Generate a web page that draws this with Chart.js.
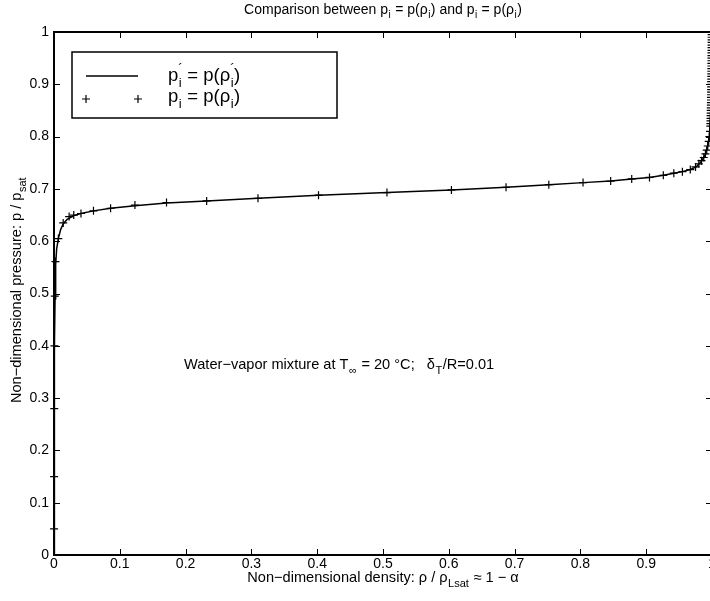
<!DOCTYPE html>
<html>
<head>
<meta charset="utf-8">
<script src="https://cdn.jsdelivr.net/npm/chart.js@4/dist/chart.umd.min.js"></script>
<style>
html,body{margin:0;padding:0;background:#fff;overflow:hidden;width:710px;height:601px;}
#wrap{width:720px;height:601px;}
</style>
</head>
<body>
<div id="wrap"><canvas id="c" width="720" height="601"></canvas></div>
<script>
/* p_i = p(rho_i) vs p'_i = p(rho'_i) */
const xTickLabels=['0','0.1','0.2','0.3','0.4','0.5','0.6','0.7','0.8','0.9','1'];
const yTickLabels=['0','0.1','0.2','0.3','0.4','0.5','0.6','0.7','0.8','0.9','1'];
// solid curve: p'_i = p(rho'_i)
const lineRho=[0,0.0003,0.0006,0.001,0.0016,0.0025,0.004,0.0066,0.01,0.014,0.02,0.03,0.041,0.06,0.086,0.123,0.171,0.232,0.31,0.402,0.506,0.604,0.687,0.752,0.804,0.846,0.878,0.905,0.926,0.942,0.955,0.967,0.976,0.984,0.99,0.9935,0.996,0.998,0.999,1.0];
const lineP=[0,0.15,0.28,0.40,0.49,0.555,0.585,0.605,0.622,0.633,0.642,0.649,0.653,0.658,0.663,0.668,0.673,0.677,0.682,0.688,0.693,0.698,0.703,0.708,0.712,0.715,0.719,0.722,0.726,0.730,0.733,0.737,0.742,0.753,0.766,0.782,0.80,0.85,0.92,1.0];
// '+' markers: p_i = p(rho_i)
const markRho=[0.0001,0.0002,0.0004,0.0007,0.0012,0.0022,0.0066,0.014,0.023,0.030,0.041,0.060,0.086,0.123,0.171,0.232,0.310,0.402,0.506,0.604,0.687,0.752,0.804,0.846,0.878,0.905,0.926,0.942,0.955,0.967,0.975,0.980,0.984,0.9875,0.990,0.992,0.9935,0.995,0.996,0.997,
  0.9975,0.9976,0.9977,0.9978,0.9979,0.998,0.9981,0.9982,0.9983,0.9984,0.9985,0.9985,0.9986,0.9986,0.9987,0.9987,0.9988,0.9988,0.9989,0.9989,0.999,0.999,0.999,0.9991,0.9991,0.9991,0.9992,0.9992,0.9992,0.9993,0.9993,0.9993,0.9994,0.9994,0.9994,0.9995,0.9995];
const markP=[0.05,0.15,0.28,0.40,0.495,0.561,0.605,0.635,0.647,0.650,0.653,0.658,0.663,0.669,0.674,0.677,0.682,0.688,0.693,0.698,0.703,0.708,0.712,0.715,0.719,0.722,0.726,0.730,0.733,0.737,0.742,0.748,0.754,0.760,0.767,0.774,0.782,0.791,0.800,0.810,
  0.820,0.825,0.830,0.835,0.840,0.845,0.850,0.855,0.860,0.865,0.870,0.875,0.880,0.885,0.890,0.895,0.900,0.905,0.910,0.915,0.920,0.925,0.930,0.935,0.940,0.945,0.950,0.955,0.960,0.965,0.970,0.975,0.980,0.985,0.990,0.995,1.000];

const FONT='"Liberation Sans", Arial, Helvetica, sans-serif';

// segments: [text, kind]  kind: undefined normal, 'b' subscript, 'pb' prime + subscript stacked
function segW(ctx,segs,size){
  let w=0;
  segs.forEach(function(s){
    if(!s[1]){ctx.font=size+'px '+FONT;w+=ctx.measureText(s[0]).width;}
    else{ctx.font=Math.round(size*0.72)+'px '+FONT;w+=ctx.measureText(s[0]).width+1;}
  });
  return w;
}
function drawRich(ctx,segs,x,y,size,align){
  let w=segW(ctx,segs,size);
  let cx=align==='center'?x-w/2:x;
  ctx.fillStyle='#000';ctx.textBaseline='alphabetic';ctx.textAlign='left';
  segs.forEach(function(s){
    if(!s[1]){ctx.font=size+'px '+FONT;ctx.fillText(s[0],cx,y);cx+=ctx.measureText(s[0]).width;return;}
    const ss=Math.round(size*0.72);
    ctx.font=ss+'px '+FONT;
    const sw=ctx.measureText(s[0]).width;
    if(s[1]==='pb'){ctx.fillText('\u00b4',cx,y-size*0.45);}
    ctx.fillText(s[0],cx+0.5,y+size*0.32);
    cx+=sw+1;
  });
}
function cross(ctx,x,y,r){ctx.beginPath();ctx.moveTo(x-r,y);ctx.lineTo(x+r,y);ctx.moveTo(x,y-r);ctx.lineTo(x,y+r);ctx.stroke();}

const decor={
  id:'decor',
  beforeDatasetsDraw(chart){
    const ctx=chart.ctx,a=chart.chartArea,xs=chart.scales.x,ys=chart.scales.y;
    ctx.save();
    ctx.strokeStyle='#000';ctx.lineWidth=1;
    xs.ticks.forEach(function(t){
      const px=Math.round(xs.getPixelForValue(t.value))+0.5;
      ctx.beginPath();ctx.moveTo(px,a.bottom);ctx.lineTo(px,a.bottom-6);ctx.moveTo(px,a.top);ctx.lineTo(px,a.top+6);ctx.stroke();
    });
    ys.ticks.forEach(function(t){
      const py=Math.round(ys.getPixelForValue(t.value))+0.5;
      ctx.beginPath();ctx.moveTo(a.left,py);ctx.lineTo(a.left+6,py);ctx.moveTo(a.right,py);ctx.lineTo(a.right-6,py);ctx.stroke();
    });
    ctx.lineWidth=2;
    ctx.strokeRect(a.left,a.top,a.right-a.left,a.bottom-a.top);
    ctx.restore();
  },
  afterDraw(chart){
    const ctx=chart.ctx,a=chart.chartArea;
    ctx.save();
    const mid=(a.left+a.right)/2;
    // title
    drawRich(ctx,[['Comparison between p'],['i','b'],[' = p(\u03c1'],['i','b'],[') and p'],['i','b'],[' = p(\u03c1'],['i','b'],[')']],mid,14,14,'center');
    // x title
    drawRich(ctx,[['Non\u2212dimensional density: \u03c1 / \u03c1'],['Lsat','b'],[' \u2248 1 \u2212 \u03b1']],mid,582,14.6,'center');
    // y title
    ctx.save();ctx.translate(21,290);ctx.rotate(-Math.PI/2);
    drawRich(ctx,[['Non\u2212dimensional pressure: p / p'],['sat','b']],0,0,14.6,'center');
    ctx.restore();
    // annotation
    drawRich(ctx,[['Water\u2212vapor mixture at T'],['\u221e','b'],[' = 20 \u00b0C;   \u03b4'],['T','b'],['/R=0.01']],184,369,14.6,'left');
    // legend
    ctx.fillStyle='#fff';ctx.fillRect(72,52,265,66);
    ctx.strokeStyle='#000';ctx.lineWidth=1.5;ctx.strokeRect(72,52,265,66);
    ctx.lineWidth=1.5;ctx.beginPath();ctx.moveTo(86,76);ctx.lineTo(138,76);ctx.stroke();
    ctx.lineWidth=1.2;cross(ctx,86,99,4);cross(ctx,138,99,4);
    drawRich(ctx,[['p'],['i','pb'],[' = p(\u03c1'],['i','pb'],[')']],168,81,18.5,'left');
    drawRich(ctx,[['p'],['i','b'],[' = p(\u03c1'],['i','b'],[')']],168,102,18.5,'left');
    ctx.restore();
  }
};

function toPts(xs,ys){return xs.map(function(v,i){return {x:v,y:ys[i]};});}

new Chart(document.getElementById('c'),{
  type:'scatter',
  data:{datasets:[
    {label:"p'_i = p(rho'_i)",data:toPts(lineRho,lineP),showLine:true,borderColor:'#000',borderWidth:1.5,pointRadius:0,fill:false,tension:0},
    {label:'p_i = p(rho_i)',data:toPts(markRho,markP),showLine:false,pointStyle:'cross',pointRadius:4,pointBorderWidth:1.2,borderColor:'#000',backgroundColor:'#000',clip:false}
  ]},
  options:{responsive:false,animation:false,events:[],
    layout:{padding:{left:0,right:8,top:32,bottom:0}},
    plugins:{legend:{display:false},title:{display:false},tooltip:{enabled:false}},
    scales:{
      x:{type:'linear',min:0,max:1,
        ticks:{stepSize:0.1,autoSkip:false,maxRotation:0,color:'#000',font:{family:FONT,size:14},padding:1,
          callback:function(v,i){return xTickLabels[i];}},
        grid:{display:false,drawTicks:false},border:{display:false},
        afterFit:function(s){s.height=46;}},
      y:{type:'linear',min:0,max:1,
        ticks:{stepSize:0.1,autoSkip:false,color:'#000',font:{family:FONT,size:14},padding:5,
          callback:function(v,i){return yTickLabels[i];}},
        grid:{display:false,drawTicks:false},border:{display:false},
        afterFit:function(s){s.width=54;}}
    }
  },
  plugins:[decor]
});
</script>
</body>
</html>
